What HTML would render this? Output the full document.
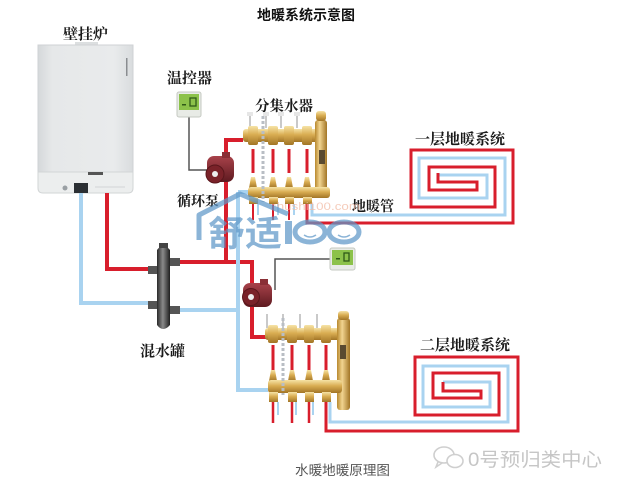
<!DOCTYPE html>
<html><head><meta charset="utf-8"><style>
html,body{margin:0;padding:0;background:#fff;width:633px;height:478px;overflow:hidden}
svg{display:block}
.lb{font-family:"Liberation Serif","Noto Serif CJK SC",serif;font-weight:bold;fill:#1a1a1a}
</style></head><body>
<svg width="633" height="478" viewBox="0 0 633 478" xmlns="http://www.w3.org/2000/svg">
<defs>
<linearGradient id="boil" x1="0" x2="1" y1="0" y2="0">
<stop offset="0" stop-color="#d5d8da"/><stop offset="0.15" stop-color="#e6e8e9"/><stop offset="0.8" stop-color="#e9ebec"/><stop offset="1" stop-color="#d9dcde"/></linearGradient>
<linearGradient id="brass" x1="0" x2="0" y1="0" y2="1">
<stop offset="0" stop-color="#f6e3a6"/><stop offset="0.45" stop-color="#d9ad52"/><stop offset="1" stop-color="#a27526"/></linearGradient>
<linearGradient id="brassv" x1="0" x2="1" y1="0" y2="0">
<stop offset="0" stop-color="#b8892f"/><stop offset="0.4" stop-color="#f1d490"/><stop offset="1" stop-color="#a27526"/></linearGradient>
<linearGradient id="sep" x1="0" x2="1" y1="0" y2="0">
<stop offset="0" stop-color="#2a2a2a"/><stop offset="0.45" stop-color="#8a8a8a"/><stop offset="1" stop-color="#1e1e1e"/></linearGradient>
<linearGradient id="pump" x1="0" x2="0" y1="0" y2="1">
<stop offset="0" stop-color="#a8424a"/><stop offset="1" stop-color="#5e1a20"/></linearGradient>
</defs>

<!-- title -->
<text x="257" y="20" font-family="'Liberation Sans','Noto Sans CJK SC',sans-serif" font-weight="bold" font-size="14" fill="#111" textLength="98" lengthAdjust="spacingAndGlyphs">地暖系统示意图</text>

<!-- boiler -->
<rect x="75" y="42" width="23" height="5" fill="#dcdfe0"/>
<rect x="38" y="45" width="95" height="128" fill="url(#boil)" stroke="#cfd2d4" stroke-width="1"/>
<rect x="126" y="58" width="1.5" height="18" fill="#8a8d90"/>
<path d="M38 172 H133 V188 Q133 193 128 193 H43 Q38 193 38 188 Z" fill="#eceeee" stroke="#d2d5d6"/>
<rect x="88" y="172" width="15" height="3" fill="#555"/>
<rect x="74" y="183" width="14" height="10" fill="#2b2f33"/>
<circle cx="65" cy="188" r="2.5" fill="#9aa0a4"/>
<rect x="95" y="186" width="30" height="2" fill="#dfe1e2"/>

<text class="lb" x="63" y="39" font-size="15" textLength="45" lengthAdjust="spacingAndGlyphs">壁挂炉</text>

<!-- pipes from boiler -->
<g fill="none" stroke-width="4">
<path d="M81 193 V303 H150" stroke="#a9d3f0"/>
<path d="M107 193 V269 H150" stroke="#d81e2c"/>
<!-- separator outputs -->
<path d="M178 262 H252 V337 H266" stroke="#d81e2c"/>
<path d="M226 262 V140 H243" stroke="#d81e2c"/>
<path d="M178 310 H238" stroke="#a9d3f0"/>
<path d="M238 192 V390 H268" stroke="#a9d3f0"/>
<path d="M238 192 H248" stroke="#a9d3f0"/>
</g>

<!-- separator -->
<rect x="148" y="266" width="9" height="8" fill="#555"/>
<rect x="148" y="301" width="9" height="8" fill="#555"/>
<rect x="170" y="258" width="10" height="8" fill="#555"/>
<rect x="170" y="306" width="10" height="8" fill="#555"/>
<path d="M157 250 Q163 242 170 250 V325 Q163 333 157 325 Z" fill="url(#sep)"/>
<rect x="159" y="243" width="9" height="5" fill="#444"/>
<text class="lb" x="140" y="356" font-size="15" textLength="45" lengthAdjust="spacingAndGlyphs">混水罐</text>

<!-- thermostat 1 -->
<text class="lb" x="167" y="83" font-size="15" textLength="45" lengthAdjust="spacingAndGlyphs">温控器</text>
<path d="M189 117 V170 H208" fill="none" stroke="#555" stroke-width="1.5"/>
<rect x="177" y="92" width="24" height="25" rx="2" fill="#e8ebe6" stroke="#c5c9c2"/>
<rect x="179" y="94" width="20" height="16" fill="#8cc24a"/>
<rect x="190" y="98" width="6" height="8" fill="none" stroke="#2f5a18" stroke-width="1.3"/>
<rect x="182" y="104" width="4" height="1.5" fill="#2f5a18"/>

<!-- pump 1 -->
<g>
<rect x="207" y="156" width="27" height="26" rx="7" fill="url(#pump)"/>
<rect x="222" y="152" width="8" height="6" fill="#8a2f36"/>
<circle cx="215" cy="174" r="9" fill="#7a2229" stroke="#5a161b"/>
<circle cx="215" cy="174" r="3" fill="#eee"/>
</g>
<text class="lb" x="177" y="206" font-size="14" textLength="42" lengthAdjust="spacingAndGlyphs">循环泵</text>

<!-- upper manifold -->
<text class="lb" x="255" y="111" font-size="14.5" textLength="58" lengthAdjust="spacingAndGlyphs">分集水器</text>
<g stroke="#c9c9c9" stroke-width="2" fill="none">
<path d="M250 114 V128 M266 114 V128 M281 114 V128 M297 114 V128"/>
</g>
<g fill="#e6e6e6"><rect x="247" y="112" width="6" height="4"/><rect x="263" y="112" width="6" height="4"/><rect x="278" y="112" width="6" height="4"/><rect x="294" y="112" width="6" height="4"/></g>
<rect x="243" y="129" width="76" height="13" rx="3" fill="url(#brass)"/>
<g fill="url(#brass)"><rect x="248" y="126" width="10" height="19" rx="2"/><rect x="268" y="126" width="10" height="19" rx="2"/><rect x="284" y="126" width="10" height="19" rx="2"/><rect x="302" y="126" width="10" height="19" rx="2"/></g>
<rect x="315" y="120" width="12" height="78" rx="3" fill="url(#brassv)"/>
<rect x="316" y="111" width="10" height="10" rx="3" fill="url(#brass)"/>
<rect x="319" y="150" width="6" height="14" fill="#5a4a30"/>
<g stroke="#d81e2c" stroke-width="3"><path d="M253 149 V173 M273 149 V173 M289 149 V173 M307 149 V173"/></g>
<g fill="url(#brass)">
<path d="M249 188 L251 177 H255 L257 188Z"/><path d="M269 188 L271 177 H275 L277 188Z"/><path d="M285 188 L287 177 H291 L293 188Z"/><path d="M303 188 L305 177 H309 L311 188Z"/>
</g>
<rect x="248" y="187" width="82" height="11" rx="3" fill="url(#brass)"/>
<g fill="url(#brass)"><rect x="249" y="197" width="9" height="7"/><rect x="269" y="197" width="9" height="7"/><rect x="285" y="197" width="9" height="7"/><rect x="303" y="197" width="9" height="7"/></g>
<path d="M263 116 V202" stroke="#b9bec4" stroke-width="3" stroke-dasharray="3 2"/>
<g stroke="#d81e2c" stroke-width="2"><path d="M253 204 V220 M273 204 V220 M289 204 V220"/></g>
<g stroke="#a9d3f0" stroke-width="2"><path d="M258 204 V215 M278 204 V215 M294 204 V215"/></g>

<!-- upper coil -->
<g fill="none" stroke-width="3" stroke-linejoin="miter">
<path d="M312 204 V215 H505 V158 H419 V198 H487 V175 H438" stroke="#a9d3f0"/>
<path d="M307 204 V223 H513 V150 H411 V207 H495 V167 H429 V190 H477 V182 H438 V173" stroke="#d81e2c"/>
</g>
<text class="lb" x="415" y="144" font-size="15" textLength="90" lengthAdjust="spacingAndGlyphs">一层地暖系统</text>
<text class="lb" x="352" y="211" font-size="14" textLength="42" lengthAdjust="spacingAndGlyphs">地暖管</text>

<!-- thermostat 2 -->
<path d="M330 259 H275 V290" fill="none" stroke="#555" stroke-width="1.5"/>
<rect x="330" y="248" width="25" height="22" rx="2" fill="#e8ebe6" stroke="#c5c9c2"/>
<rect x="332" y="250" width="21" height="15" fill="#8cc24a"/>
<rect x="344" y="253" width="5" height="8" fill="none" stroke="#2f5a18" stroke-width="1.3"/>
<rect x="336" y="258" width="4" height="1.5" fill="#2f5a18"/>

<!-- pump 2 -->
<rect x="243" y="283" width="29" height="24" rx="7" fill="url(#pump)"/>
<rect x="260" y="279" width="8" height="6" fill="#8a2f36"/>
<circle cx="251" cy="297" r="8.5" fill="#7a2229" stroke="#5a161b"/>
<circle cx="251" cy="297" r="3" fill="#eee"/>

<!-- lower manifold -->
<g stroke="#c9c9c9" stroke-width="2" fill="none">
<path d="M267 314 V328 M283 314 V328 M300 314 V328 M317 314 V328"/>
</g>
<rect x="265" y="328" width="76" height="12" rx="3" fill="url(#brass)"/>
<g fill="url(#brass)"><rect x="268" y="325" width="10" height="18" rx="2"/><rect x="287" y="325" width="10" height="18" rx="2"/><rect x="304" y="325" width="10" height="18" rx="2"/><rect x="321" y="325" width="10" height="18" rx="2"/></g>
<rect x="337" y="318" width="13" height="92" rx="3" fill="url(#brassv)"/>
<rect x="338" y="311" width="11" height="9" rx="3" fill="url(#brass)"/>
<rect x="340" y="345" width="6" height="14" fill="#5a4a30"/>
<g stroke="#d81e2c" stroke-width="3"><path d="M273 345 V370 M292 345 V370 M309 345 V370 M326 345 V370"/></g>
<g fill="url(#brass)">
<path d="M269 381 L271 370 H275 L277 381Z"/><path d="M288 381 L290 370 H294 L296 381Z"/><path d="M305 381 L307 370 H311 L313 381Z"/><path d="M322 381 L324 370 H328 L330 381Z"/>
</g>
<rect x="268" y="380" width="74" height="13" rx="3" fill="url(#brass)"/>
<g fill="url(#brass)"><rect x="269" y="392" width="9" height="10"/><rect x="288" y="392" width="9" height="10"/><rect x="305" y="392" width="9" height="10"/><rect x="322" y="392" width="9" height="10"/></g>
<path d="M283 318 V395" stroke="#b9bec4" stroke-width="3" stroke-dasharray="3 2"/>
<g stroke="#d81e2c" stroke-width="2.5"><path d="M273 402 V423 M292 402 V423 M309 402 V423"/></g>
<g stroke="#a9d3f0" stroke-width="2"><path d="M278 402 V415 M296 402 V415 M313 402 V415"/></g>

<!-- lower coil -->
<g fill="none" stroke-width="3">
<path d="M330 402 V422 H508 V366 H423 V407 H490 V382 H443" stroke="#a9d3f0"/>
<path d="M326 402 V431 H518 V357 H415 V415 H499 V373 H433 V398 H481 V391 H443 V382" stroke="#d81e2c"/>
</g>
<text class="lb" x="420" y="350" font-size="15" textLength="90" lengthAdjust="spacingAndGlyphs">二层地暖系统</text>

<!-- watermark 舒适100 -->
<g opacity="0.72">
<text x="270" y="210" font-family="'Liberation Sans',sans-serif" font-size="11" fill="#f2b9a2" textLength="90" lengthAdjust="spacingAndGlyphs">shushi100.com</text>
<path d="M199 240 V215 L240 194 L288 214" fill="none" stroke="#5f98c9" stroke-width="5" stroke-linejoin="round"/>
<text x="208" y="246" font-family="'Noto Sans CJK SC','WenQuanYi Zen Hei',sans-serif" font-weight="bold" font-size="35" fill="#5f98c9" textLength="74" lengthAdjust="spacingAndGlyphs">舒适</text>
<rect x="285" y="221" width="7" height="23" fill="#5f98c9"/>
<ellipse cx="310" cy="232" rx="15" ry="10" fill="none" stroke="#5f98c9" stroke-width="5"/>
<ellipse cx="344" cy="232" rx="15" ry="10" fill="none" stroke="#5f98c9" stroke-width="5"/>
<path d="M304 235 Q310 239 316 235 M338 235 Q344 239 350 235" fill="none" stroke="#5f98c9" stroke-width="1.5"/>
</g>

<!-- caption -->
<text x="295" y="475" font-family="'Liberation Sans','Noto Sans CJK SC',sans-serif" font-size="13.5" fill="#555" textLength="95" lengthAdjust="spacingAndGlyphs">水暖地暖原理图</text>

<!-- wechat watermark -->
<g fill="none" stroke="#cfcfcf" stroke-width="1.6">
<ellipse cx="444" cy="455" rx="10" ry="8"/>
<path d="M438 462 L436 467 L442 463"/>
<ellipse cx="455" cy="461" rx="8" ry="6.5" fill="#fff"/>
</g>
<text x="468" y="466" font-family="'Liberation Sans','Noto Sans CJK SC',sans-serif" font-size="19" fill="#c6c6c6" textLength="134" lengthAdjust="spacingAndGlyphs">0号预归类中心</text>
</svg>
</body></html>
